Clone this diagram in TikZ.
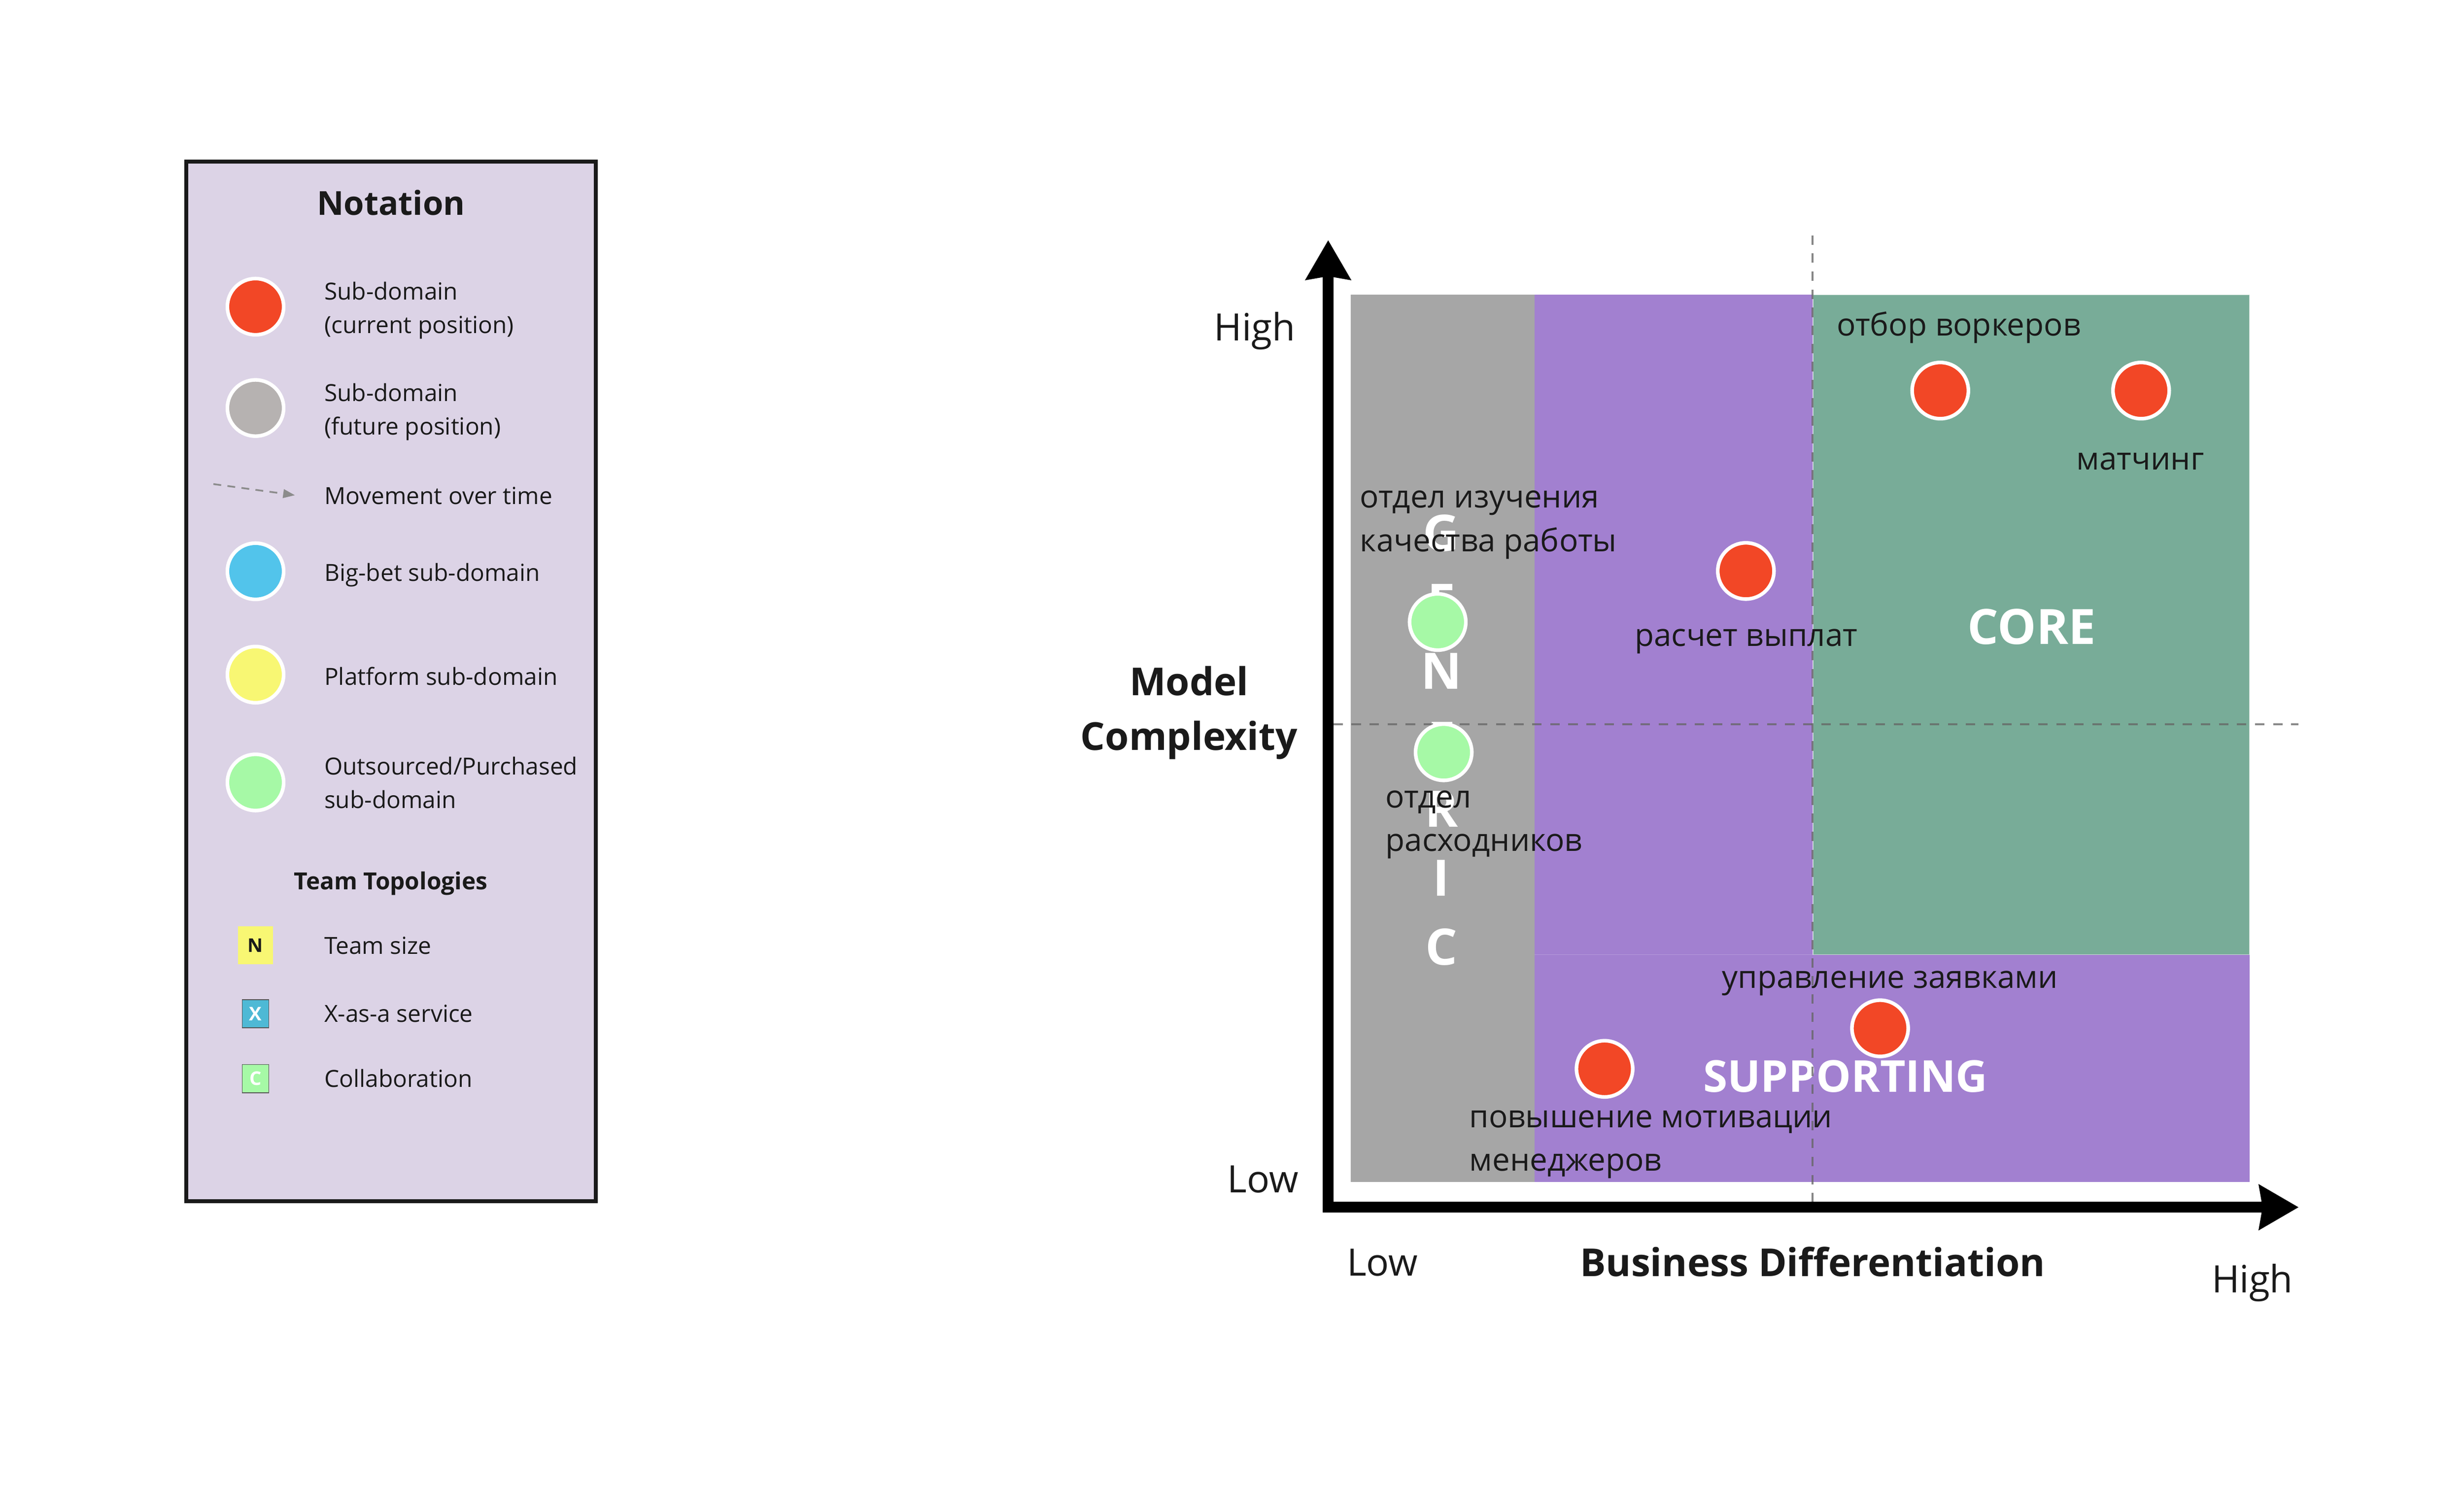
\documentclass[tikz,border=0pt]{standalone}
\usepackage{fontspec}
\setmainfont{Open Sans}
\usetikzlibrary{arrows.meta}
\definecolor{ink}{HTML}{1A1A1A}
\definecolor{subred}{HTML}{F24726}
\definecolor{futgray}{HTML}{B6B2B1}
\definecolor{betblue}{HTML}{52C4EB}
\definecolor{platyellow}{HTML}{F8F773}
\definecolor{outgreen}{HTML}{A6F9A6}
\definecolor{legbg}{HTML}{DCD3E6}
\definecolor{genericgray}{HTML}{A6A6A6}
\definecolor{supportpurple}{HTML}{A280D0}
\definecolor{coregreen}{HTML}{78AC98}
\definecolor{xblue}{HTML}{4EB9D5}
\definecolor{guidegray}{HTML}{656565}
\definecolor{movegray}{HTML}{8C8C8C}
\newcommand{\stackL}[1]{\begin{tabular}[t]{@{}l@{}}#1\end{tabular}}
\newcommand{\stackC}[1]{\begin{tabular}[t]{@{}c@{}}#1\end{tabular}}
\begin{document}
\begin{tikzpicture}[x=1pt,y=-1pt,
  dot/.style={circle, draw=white, line width=2.3pt, minimum size=35.8pt, inner sep=0pt},
  legtext/.style={text=ink, inner sep=0pt, anchor=base west, font=\fontsize{15}{21.3}\selectfont},
  lbl/.style={text=ink, inner sep=0pt, font=\fontsize{20}{27.7}\selectfont},
  axislbl/.style={text=ink, inner sep=0pt, font=\fontsize{24}{30}\selectfont},
  axistitle/.style={text=ink, inner sep=0pt, font=\fontsize{24.5}{34.9}\selectfont\bfseries},
  zonetitle/.style={text=white, inner sep=0pt, anchor=base},
  zone/.style={inner sep=0pt, outer sep=0pt, anchor=north west},
  tagbox/.style={inner sep=0pt, font=\fontsize{12}{14}\selectfont\bfseries},
  guide/.style={draw=guidegray, draw opacity=0.77, line width=1.3pt, dash pattern=on 6pt off 5.5pt},
  axis/.style={draw=black, line width=7pt, line join=miter,
    {Stealth[length=25pt, width=28pt, inset=2pt]}-{Stealth[length=25pt, width=28pt, inset=2pt]}},
  movearrow/.style={draw=movegray, line width=1.1pt, dash pattern=on 5pt off 4pt,
    -{Triangle[length=7.5pt, width=5.5pt]}}
]
\fill[white] (0,0) rectangle (1568,945);
\useasboundingbox (0,0) rectangle (1568,945);

% ---------------- Legend ----------------
\node[draw=ink, line width=2.5pt, fill=legbg, minimum width=260.6pt, minimum height=661.5pt, inner sep=0pt] (legend) at (248.7,433.75) {};
\node[text=ink, inner sep=0pt, anchor=base, font=\fontsize{21}{26}\selectfont\bfseries] (nottitle) at (248.9,136.9) {Notation};

\node[dot, fill=subred] (lcur) at (162.6,195.2) {};
\node[legtext] (tcur) at (206.2,190.7) {\stackL{Sub-domain\\(current position)}};
\node[dot, fill=futgray] (lfut) at (162.6,259.7) {};
\node[legtext] (tfut) at (206.2,255.4) {\stackL{Sub-domain\\(future position)}};
\coordinate (mvA) at (135.8,308.1);
\coordinate (mvB) at (187.7,315.2);
\draw[movearrow] (mvA) -- (mvB);
\node[legtext] (tmove) at (206.2,320.9) {Movement over time};
\node[dot, fill=betblue] (lbet) at (162.6,363.6) {};
\node[legtext] (tbet) at (206.2,370) {Big-bet sub-domain};
\node[dot, fill=platyellow] (lplat) at (162.6,429.4) {};
\node[legtext] (tplat) at (206.2,436.1) {Platform sub-domain};
\node[dot, fill=outgreen] (lout) at (162.6,498) {};
\node[legtext] (tout) at (206.2,493) {\stackL{Outsourced/Purchased\\sub-domain}};

\node[text=ink, inner sep=0pt, anchor=base, font=\fontsize{15}{20}\selectfont\bfseries] (tttitle) at (248.7,566.3) {Team Topologies};
\node[tagbox, fill=platyellow, text=ink, minimum width=22pt, minimum height=24pt] (lsize) at (162.6,601.7) {N};
\node[legtext] (tsize) at (206.2,607.3) {Team size};
\node[tagbox, fill=xblue, draw=ink!75, line width=0.5pt, text=white, minimum width=17pt, minimum height=18pt] (lxaas) at (162.6,645.2) {X};
\node[legtext] (txaas) at (206.2,650.4) {X-as-a service};
\node[tagbox, fill=outgreen, draw=ink!75, line width=0.5pt, text=white, minimum width=17pt, minimum height=18pt] (lcollab) at (162.6,686.5) {C};
\node[legtext] (tcollab) at (206.2,692.1) {Collaboration};

% ---------------- Chart zones ----------------
\node[zone, fill=genericgray, minimum width=117pt, minimum height=564.8pt] (genericzone) at (859.6,187.5) {};
\node[zone, fill=supportpurple, minimum width=177.1pt, minimum height=564.8pt] (midzone) at (976.6,187.5) {};
\node[zone, fill=supportpurple, minimum width=455.1pt, minimum height=144.7pt] (supportzone) at (976.6,607.6) {};
\draw[supportpurple!80!white, line width=0.6pt] (supportzone.north west) -- (supportzone.north east);
\node[zone, fill=coregreen, draw=white, draw opacity=0.6, line width=0.6pt, minimum width=278pt, minimum height=420.1pt] (corezone) at (1153.7,187.5) {};

% zone titles
\node[zonetitle, font=\fontsize{32}{43.9}\selectfont\bfseries] (generic) at (917.2,350.8) {\stackC{G\\E\\N\\E\\R\\I\\C}};
\node[zonetitle, font=\fontsize{31}{36}\selectfont\bfseries] (core) at (1292.9,410) {CORE};
\node[zonetitle, font=\fontsize{28}{33}\selectfont\bfseries] (supporting) at (1174.4,695.2) {SUPPORTING};

% guide lines
\coordinate (vgTop) at (1153.4,149.8);
\coordinate (vgBot) at (1153.4,764.8);
\coordinate (hgL) at (848.5,461);
\coordinate (hgR) at (1462.6,461);
\draw[guide] (vgTop) -- (vgBot);
\draw[guide] (hgL) -- (hgR);

% labels
\node[lbl, anchor=base] (totbor) at (1246.5,213.8) {отбор воркеров};
\node[lbl, anchor=base] (tmatch) at (1362,298.9) {матчинг};
\node[lbl, anchor=base] (tpay) at (1111.2,411.3) {расчет выплат};
\node[lbl, anchor=base west] (tquality) at (865.3,323.3) {\stackL{отдел изучения\\качества работы}};
\node[lbl, anchor=base west] (tsupply) at (881.5,514.1) {\stackL{отдел\\расходников}};
\node[lbl, anchor=base] (torders) at (1202.7,628.9) {управление заявками};
\node[lbl, anchor=base west] (tmotiv) at (934.8,717.7) {\stackL{повышение мотивации\\менеджеров}};

% sub-domains
\node[dot, fill=subred] (otbor) at (1234.7,248.6) {};
\node[dot, fill=subred] (match) at (1362.5,248.6) {};
\node[dot, fill=subred] (pay) at (1111,363.4) {};
\node[dot, fill=outgreen] (quality) at (914.9,395.9) {};
\node[dot, fill=outgreen] (supply) at (918.7,478.8) {};
\node[dot, fill=subred] (orders) at (1196.4,654.5) {};
\node[dot, fill=subred] (motiv) at (1021.1,680.3) {};

% axes
\coordinate (ytip) at (845.2,152.8);
\coordinate (origin) at (845.2,768.4);
\coordinate (xtip) at (1462.8,768.4);
\draw[axis] (ytip) -- (origin) -- (xtip);

% axis labels
\node[axislbl, anchor=base east] (yhigh) at (824.5,216.7) {High};
\node[axislbl, anchor=base east] (ylow) at (826.5,759) {Low};
\node[axistitle, anchor=base] (ytitle) at (756.7,442.7) {\stackC{Model\\Complexity}};
\node[axislbl, anchor=base] (xlow) at (879.7,812) {Low};
\node[axistitle, anchor=base] (xtitle) at (1153.5,812.3) {Business Differentiation};
\node[axislbl, anchor=base] (xhigh) at (1433.3,822.8) {High};
\end{tikzpicture}
\end{document}
